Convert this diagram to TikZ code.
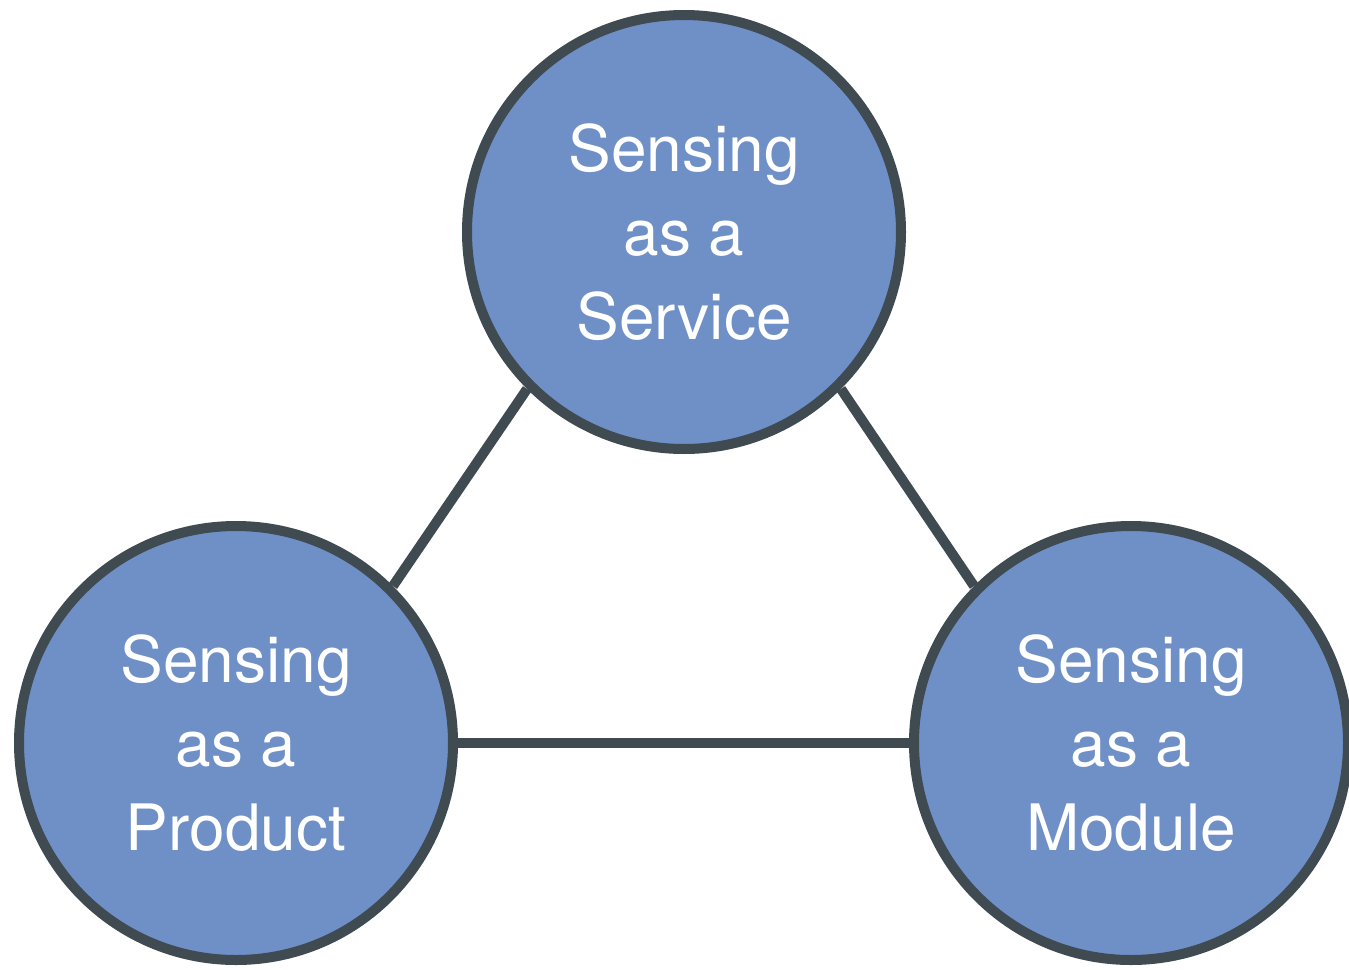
\documentclass[tikz,border=0pt]{standalone}
\usepackage{fontspec}
\setmainfont{TeX Gyre Heros}
\definecolor{discfill}{HTML}{6F90C7}
\definecolor{discline}{HTML}{3F4A51}

\begin{document}
\begin{tikzpicture}[x=0.5pt,y=-0.5pt,
    sensing/.style={circle,draw=discline,fill=discfill,line width=5pt,
      minimum size=217pt,inner sep=0pt,text=white,align=center,
      font=\fontsize{32}{42}\selectfont},
    link/.style={draw=discline,line width=5pt}]
  \useasboundingbox (0,0) rectangle (1349,969);

  % the three ways of sensing
  \node[sensing] (service) at (684,232) {Sensing\\as a\\Service};
  \node[sensing] (product) at (236,743) {Sensing\\as a\\Product};
  \node[sensing] (module)  at (1131,743) {Sensing\\as a\\Module};

  \draw[link] (service.south west) -- (product.north east);
  \draw[link] (service.south east) -- (module.north west);
  \draw[link] (product) -- (module);
\end{tikzpicture}
\end{document}
